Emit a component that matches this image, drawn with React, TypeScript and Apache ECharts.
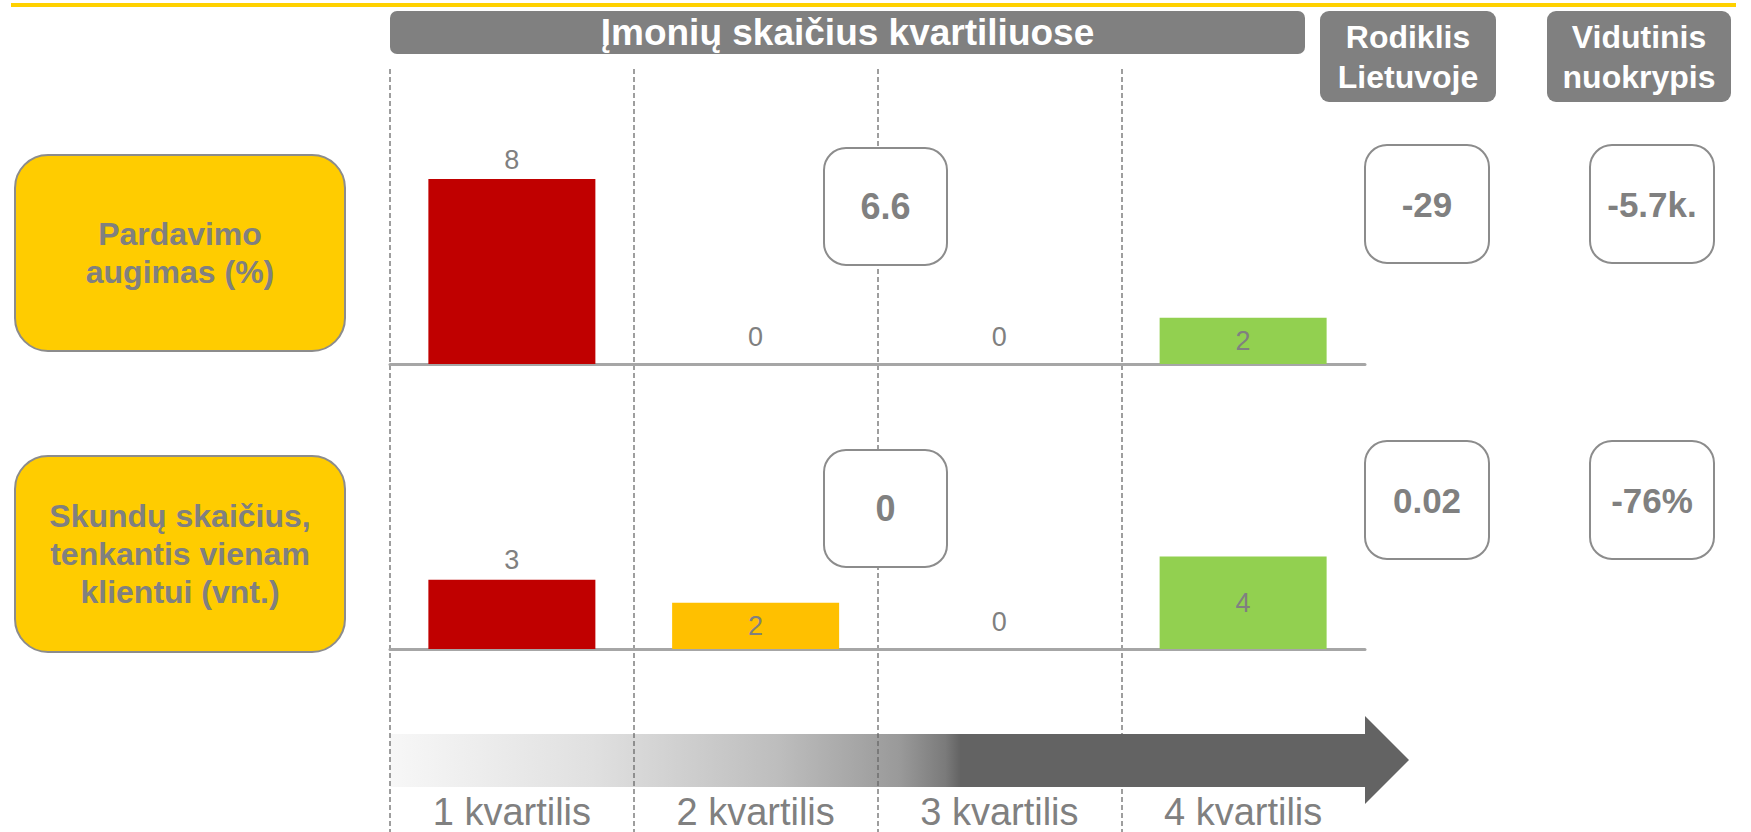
import { useEffect, useRef } from "react";
import * as echarts from "echarts";

// ---------- data ----------
const quartiles = ["1 kvartilis", "2 kvartilis", "3 kvartilis", "4 kvartilis"];
const quartileColors = ["#C00000", "#FFC000", "#FFE699", "#92D050"];
const headerTitle = "Įmonių skaičius kvartiliuose";
const colHeaders = ["Rodiklis\nLietuvoje", "Vidutinis\nnuokrypis"];
const metricNames = ["Pardavimo\naugimas (%)", "Skundų skaičius,\ntenkantis vienam\nklientui (vnt.)"];
const salesGrowthCounts = [8, 0, 0, 2];
const complaintsCounts = [3, 2, 0, 4];
const medianValues = ["6.6", "0"];
const lithuaniaValues = ["-29", "0.02"];
const deviationValues = ["-5.7k.", "-76%"];

// ---------- style / layout ----------
const FONT = "'Liberation Sans', Arial, Helvetica, sans-serif";
const GRAY = "#808080";
const BORDER = "#8C8C8C";
const GRID_LEFT = 390;
const GRID_W = 975;
const rows = [
  { boxY: 155, valY: 145, medY: 148, gridTop: 179 },
  { boxY: 456, valY: 441, medY: 450, gridTop: 464 },
];
const GRID_H = 185;

function barData(values: number[]) {
  return values.map((v, i) => ({
    value: v,
    itemStyle: { color: quartileColors[i] },
    label:
      i === 0 || v === 0
        ? { position: "top", distance: v === 0 ? 14 : 6 }
        : { position: "inside" },
  }));
}

function roundBox(
  x: number, y: number, w: number, h: number, r: number,
  fill: string, stroke: string | null, text: string, color: string,
  fontSize: number, lineHeight: number
) {
  return {
    type: "rect",
    z: 20,
    shape: { x, y, width: w, height: h, r },
    style: { fill, stroke: stroke || undefined, lineWidth: stroke ? 2 : 0 },
    textContent: {
      z: 21,
      style: {
        text,
        fill: color,
        fontSize,
        fontWeight: "bold",
        fontFamily: FONT,
        lineHeight,
        align: "center",
      },
    },
    textConfig: { position: "inside" },
  };
}

export default function App() {
  const ref = useRef<HTMLDivElement>(null);

  useEffect(() => {
    if (!ref.current) return;
    const chart = echarts.init(ref.current, undefined, { renderer: "svg" });

    const graphics: any[] = [];
    // top yellow rule
    graphics.push({ type: "rect", z: 20, shape: { x: 11, y: 3, width: 1725, height: 4 }, style: { fill: "#FFD100" } });
    // header boxes
    graphics.push(roundBox(390, 11, 915, 43, 7, GRAY, null, headerTitle, "#FFFFFF", 37, 42));
    graphics.push(roundBox(1320, 11, 176, 91, 9, GRAY, null, colHeaders[0], "#FFFFFF", 32, 40));
    graphics.push(roundBox(1547, 11, 184, 91, 9, GRAY, null, colHeaders[1], "#FFFFFF", 32, 40));

    rows.forEach((r, i) => {
      graphics.push(roundBox(15, r.boxY, 330, 196, 33, "#FFCC00", BORDER, metricNames[i], GRAY, 32, 38));
      graphics.push(roundBox(824, r.medY, 123, 117, 22, "#FFFFFF", BORDER, medianValues[i], GRAY, 36, 40));
      graphics.push(roundBox(1365, r.valY, 124, 118, 22, "#FFFFFF", BORDER, lithuaniaValues[i], GRAY, 35, 40));
      graphics.push(roundBox(1590, r.valY, 124, 118, 22, "#FFFFFF", BORDER, deviationValues[i], GRAY, 35, 40));
    });

    // arrow
    graphics.push({
      type: "polygon",
      z: 15,
      shape: {
        points: [
          [390, 734], [1365, 734], [1365, 716], [1409, 760],
          [1365, 804], [1365, 787], [390, 787],
        ],
      },
      style: {
        fill: new echarts.graphic.LinearGradient(0, 0, 1, 0, [
          { offset: 0, color: "rgba(99,99,99,0.05)" },
          { offset: 0.2, color: "rgba(99,99,99,0.2)" },
          { offset: 0.38, color: "rgba(99,99,99,0.42)" },
          { offset: 0.5, color: "rgba(99,99,99,0.65)" },
          { offset: 0.545, color: "rgba(99,99,99,0.85)" },
          { offset: 0.56, color: "rgba(99,99,99,1)" },
          { offset: 1, color: "rgba(99,99,99,1)" },
        ]),
      },
    });

    const catAxisBars = (gridIndex: number) => ({
      type: "category",
      gridIndex,
      data: quartiles,
      boundaryGap: true,
      axisLine: { show: true, lineStyle: { color: "#A6A6A6", width: 3 } },
      axisTick: { show: false },
      axisLabel: { show: false },
      splitLine: { show: false },
    });
    const valAxis = (gridIndex: number) => ({
      type: "value",
      gridIndex,
      min: 0,
      max: 8,
      show: false,
      splitLine: { show: false },
    });

    const barLabel = { show: true, color: GRAY, fontSize: 27, fontFamily: FONT };

    chart.setOption({
      animation: false,
      backgroundColor: "#FFFFFF",
      grid: [
        { left: GRID_LEFT, width: GRID_W, top: 69, bottom: 0 },
        { left: GRID_LEFT, width: GRID_W, top: rows[0].gridTop, height: GRID_H },
        { left: GRID_LEFT, width: GRID_W, top: rows[1].gridTop, height: GRID_H },
      ],
      xAxis: [
        {
          type: "category",
          gridIndex: 0,
          data: quartiles,
          boundaryGap: true,
          axisLine: { show: false },
          axisTick: { show: false },
          axisLabel: {
            show: true,
            inside: true,
            margin: 1,
            verticalAlign: "bottom",
            color: GRAY,
            fontSize: 38,
            lineHeight: 38,
            fontFamily: FONT,
          },
          splitLine: {
            show: true,
            showMaxLine: false,
            lineStyle: { color: ["#7F7F7F", "#7F7F7F", "#7F7F7F", "#7F7F7F", "transparent"], width: 1.5, type: [5, 3] },
          },
        },
        catAxisBars(1),
        catAxisBars(2),
      ],
      yAxis: [
        { type: "value", gridIndex: 0, show: false, splitLine: { show: false } },
        valAxis(1),
        valAxis(2),
      ],
      series: [
        {
          type: "bar",
          name: "Pardavimo augimas",
          xAxisIndex: 1,
          yAxisIndex: 1,
          barWidth: 167,
          data: barData(salesGrowthCounts),
          label: barLabel,
          silent: true,
        },
        {
          type: "bar",
          name: "Skundų skaičius",
          xAxisIndex: 2,
          yAxisIndex: 2,
          barWidth: 167,
          data: barData(complaintsCounts),
          label: barLabel,
          silent: true,
        },
      ],
      graphic: graphics,
    });

    return () => chart.dispose();
  }, []);

  return (
    <div
      ref={ref}
      style={{ position: "fixed", left: 0, top: 0, width: 1751, height: 832, background: "#fff" }}
    />
  );
}
